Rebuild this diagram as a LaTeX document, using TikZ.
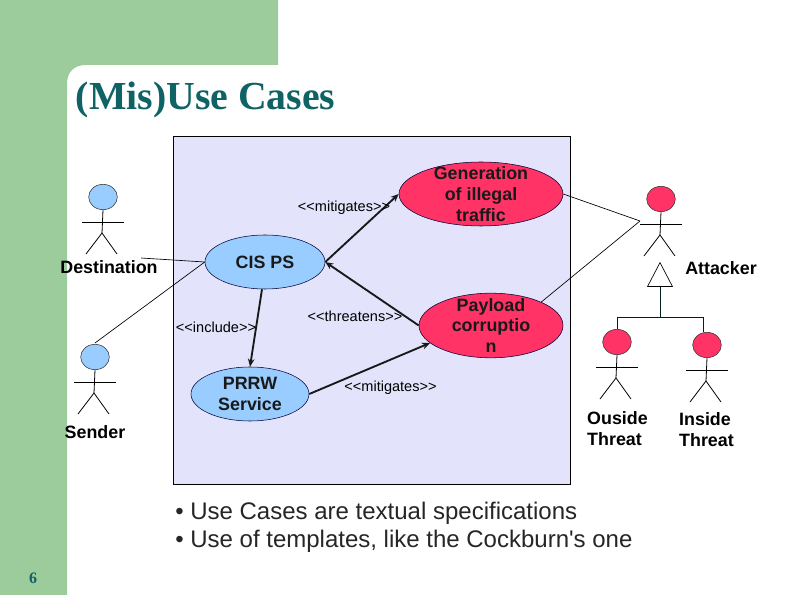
\documentclass[tikz,border=0pt]{standalone}
\usepackage{fontspec}
\setmainfont{Liberation Sans}
\newfontfamily\titlefont{Liberation Serif}
\newfontfamily\plainfont{Liberation Sans}
\usetikzlibrary{shapes.geometric, arrows.meta, positioning}
\definecolor{slidegreen}{HTML}{9CCC9C}
\definecolor{slideteal}{HTML}{0F6364}
\definecolor{boxfill}{HTML}{E3E3FB}
\definecolor{caseblue}{HTML}{99CCFF}
\definecolor{casered}{HTML}{FF3366}
\tikzset{
    usecase/.style={ellipse,draw=black!80!blue,fill=#1,inner sep=0pt,align=center,
        font=\fontsize{13.4}{15.5}\selectfont\bfseries,text=black!90},
    actorhead/.style={ellipse,draw=black!80,inner sep=0pt,minimum width=21.5pt,minimum height=19pt},
    actorname/.style={font=\fontsize{13.4}{15.6}\selectfont\bfseries,align=left,inner sep=0pt},
    stereotype/.style={font=\fontsize{10.9}{13}\selectfont,inner sep=0pt},
    stickline/.style={line width=0.6pt,black},
    assoc/.style={line width=0.5pt,black},
    dependency/.style={line width=1.4pt,black!90,-{Stealth[length=6pt,width=5pt]}},
    treeline/.style={line width=0.6pt,black!75!teal}
}
\begin{document}
\begin{tikzpicture}[x=0.75pt,y=-0.75pt]
\useasboundingbox (0,0) rectangle (794,595);
% Slide background
\fill[white] (0,0) rectangle (794,595);
\fill[slidegreen] (0,0) -- (278,0) -- (278,65) -- (86,65)
    .. controls (74,65) and (67,72) .. (67,84) -- (67,595) -- (0,595) -- cycle;
\node[font=\fontsize{29.8}{34}\titlefont\bfseries,text=slideteal,inner sep=0pt] (title) at (205.5,100) {(Mis)Use Cases};
\node[font=\fontsize{12}{14}\titlefont\bfseries,text=slideteal,inner sep=0pt] (pagenum) at (33,578) {6};

% System boundary
\draw[line width=0.7pt,fill=boxfill] (173,136) rectangle (570,484);

% Use cases
\node[usecase=caseblue,minimum width=90pt,minimum height=40.5pt] (cis) at (265,262) {CIS PS};
\node[usecase=caseblue,minimum width=88.5pt,minimum height=40.5pt] (prrw) at (250,394) {PRRW\\Service};
\node[usecase=casered,inner ysep=-6pt,minimum width=123pt,minimum height=48pt] (gen) at (481,194) {Generation\\of illegal\\traffic};
\node[usecase=casered,inner ysep=-6pt,minimum width=108pt,minimum height=48.5pt] (payload) at (491,325.5) {Payload\\corruptio\\n};

% Stick figures
\foreach \n/\x/\y/\c in {dest/103/197/caseblue,sender/95/357/caseblue,attacker/661/199/casered,
    outside/617/342/casered,inside/707/345/casered} {
    \node[actorhead,fill=\c] (\n) at (\x,\y) {};
    \draw[stickline] (\n.south) -- (\x-1,\y+36);
    \draw[stickline] (\x-21,\y+25) -- (\x+21,\y+25);
    \draw[stickline] (\x-17,\y+57) -- (\x-1,\y+36) -- (\x+14,\y+57);
}
\node[actorname] (destname) at (109,267) {Destination};
\node[actorname] (sendername) at (95,432) {Sender};
\node[actorname] (attackername) at (721,268) {Attacker};
\node[actorname] (outsidename) at (617.5,429) {Ouside\\Threat};
\node[actorname] (insidename) at (706.5,430) {Inside\\Threat};

% Plain associations
\coordinate (destend) at (141,258);
\coordinate (senderend) at (95,343);
\coordinate (attackerend) at (640,221);
\draw[assoc] (destend) -- (cis.west);
\draw[assoc] (senderend) -- (cis.west);
\draw[assoc] (gen.east) -- (attackerend);
\draw[assoc] (payload.25) -- (attackerend);

% Stereotyped dependencies
\draw[dependency] (cis.east) -- (gen.west);
\draw[dependency] (payload.west) -- (cis.east);
\draw[dependency] (cis.south) ++(-3,0) -- (prrw.north);
\draw[dependency] (prrw.east) -- (payload.196);
\node[stereotype] (mitigatesa) at (344,208) {<{}<mitigates>{}>};
\node[stereotype] (threatens) at (355,316) {<{}<threatens>{}>};
\node[stereotype] (include) at (216,327) {<{}<include>{}>};
\node[stereotype] (mitigatesb) at (390.5,388) {<{}<mitigates>{}>};

% Generalisation tree
\node[isosceles triangle,isosceles triangle apex angle=55,shape border rotate=90,draw,fill=white,
    inner sep=0pt,minimum height=18pt,minimum width=18pt,line width=0.5pt] (triangle) at (660,279) {};
\coordinate (treejoin) at (660,317);
\draw[treeline] (triangle.south) -- (treejoin);
\draw[treeline] (outside.north) |- (treejoin);
\draw[treeline] (inside.north) ++(-4,0) |- (treejoin);

% Bullets
\node[font=\fontsize{18}{21}\plainfont,align=left,inner sep=0pt,anchor=west,text=black!85] (bullets) at (175,527)
    {• Use Cases are textual specifications\\• Use of templates, like the Cockburn's one};
\end{tikzpicture}
\end{document}
